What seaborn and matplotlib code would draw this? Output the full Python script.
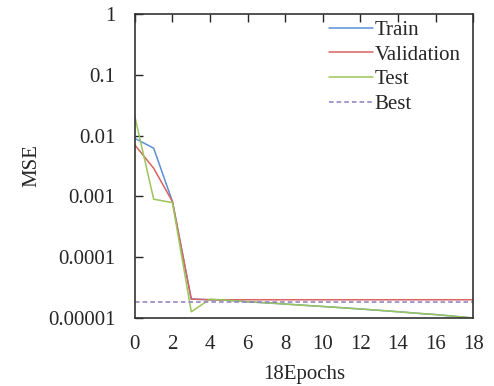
import matplotlib
matplotlib.use("Agg")
import matplotlib.pyplot as plt
import pandas as pd
import seaborn as sns

epochs = list(range(19))
train_mse = [0.0090, 0.0062, 0.00082, 2.05e-5, 2.0e-5, 1.95e-5, 1.85e-5, 1.78e-5, 1.70e-5, 1.62e-5,
             1.55e-5, 1.48e-5, 1.41e-5, 1.34e-5, 1.27e-5, 1.20e-5, 1.14e-5, 1.07e-5, 1.0e-5]
val_mse = [0.0070, 0.0029, 0.00082, 2.05e-5, 2.0e-5, 2.0e-5, 2.0e-5, 2.0e-5, 2.0e-5, 2.0e-5,
           2.0e-5, 2.0e-5, 2.0e-5, 2.0e-5, 2.0e-5, 2.0e-5, 2.0e-5, 2.0e-5, 2.0e-5]
test_mse = [0.0205, 0.00090, 0.00079, 1.27e-5, 2.05e-5, 1.95e-5, 1.85e-5, 1.78e-5, 1.70e-5, 1.62e-5,
            1.55e-5, 1.48e-5, 1.41e-5, 1.34e-5, 1.27e-5, 1.20e-5, 1.14e-5, 1.07e-5, 1.0e-5]
best_mse = 1.85e-5

y_ticks = [1, 0.1, 0.01, 0.001, 0.0001, 0.00001]
y_tick_labels = ["1", "0.1", "0.01", "0.001", "0.0001", "0.00001"]
x_ticks = list(range(0, 19, 2))

sns.set_style("ticks")
plt.rcParams["font.family"] = ["Liberation Serif", "DejaVu Serif"]

df = pd.DataFrame({"epoch": epochs, "Train": train_mse, "Validation": val_mse, "Test": test_mse})

fig = plt.figure(figsize=(4.94, 3.86), dpi=100)
ax = fig.add_axes([0.273, 0.176, 0.685, 0.788])

sns.lineplot(data=df, x="epoch", y="Train", ax=ax, color="#5b8fd9", lw=1.1, label="Train")
sns.lineplot(data=df, x="epoch", y="Validation", ax=ax, color="#d96262", lw=1.1, label="Validation")
sns.lineplot(data=df, x="epoch", y="Test", ax=ax, color="#9bc55a", lw=1.1, label="Test")
ax.axhline(best_mse, color="#8e7cc3", lw=1.1, ls=(0, (3, 2)), label="Best")

ax.set_yscale("log")
ax.set_ylim(1e-5, 1)
ax.set_xlim(0, 18)
ax.set_yticks(y_ticks)
ax.set_yticklabels(y_tick_labels)
ax.minorticks_off()
ax.set_xticks(x_ticks)

ax.tick_params(axis="x", top=True, bottom=False, labelbottom=True, direction="in",
               length=6, width=1, pad=12, labelsize=15)
ax.tick_params(axis="y", left=True, right=False, direction="in", length=6, width=1,
               pad=14, labelsize=15)

for side in ax.spines.values():
    side.set_visible(True)
    side.set_linewidth(1.2)
    side.set_color("#333333")

ax.set_xlabel("18Epochs", fontsize=15, labelpad=8)
ax.set_ylabel("MSE", fontsize=15, labelpad=5)

ax.legend(loc="upper right", bbox_to_anchor=(1.0, 1.02), frameon=False, fontsize=15,
          handlelength=2.1, handletextpad=0.1, labelspacing=0.25, borderaxespad=0.2)

fig.savefig("out.png", dpi=100)
